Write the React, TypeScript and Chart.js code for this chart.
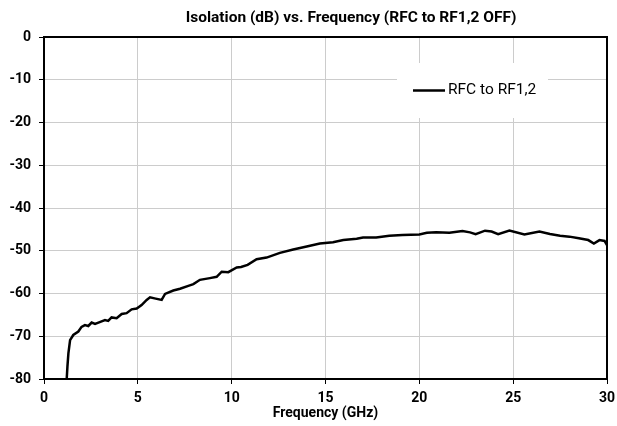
import React, { useEffect, useRef } from "react";
import { Chart, registerables } from "chart.js";

Chart.register(...registerables);

const frequencyGHz = [
  1.21, 1.25, 1.3, 1.39, 1.56, 1.83, 2.0, 2.18, 2.36, 2.54, 2.72, 2.9, 3.07, 3.25, 3.42, 3.6,
  3.87, 4.14, 4.4, 4.67, 4.94, 5.2, 5.47, 5.65, 5.95, 6.27, 6.45, 6.89, 7.25, 7.69, 7.96, 8.31,
  8.84, 9.2, 9.47, 9.82, 10.27, 10.5, 10.85, 11.33, 11.86, 12.57, 13.28, 14.0, 14.7, 15.4, 15.95,
  16.66, 17.0, 17.7, 18.4, 19.1, 20.0, 20.4, 20.9, 21.6, 22.3, 22.7, 23.0, 23.5, 23.85, 24.2,
  24.8, 25.6, 26.4, 26.96, 27.5, 28.0, 28.5, 29.0, 29.3, 29.6, 29.87, 30.0,
];
const isolationDb = [
  -80, -77, -74, -70.9, -69.7, -68.9, -67.8, -67.4, -67.6, -66.8, -67.1, -66.8, -66.5, -66.2,
  -66.4, -65.6, -65.8, -64.8, -64.6, -63.7, -63.5, -62.7, -61.5, -60.9, -61.2, -61.5, -60.1,
  -59.3, -58.9, -58.2, -57.8, -56.8, -56.4, -56.1, -54.9, -55.0, -53.9, -53.8, -53.3, -52.0,
  -51.6, -50.5, -49.7, -49.0, -48.3, -48.0, -47.5, -47.2, -46.9, -46.9, -46.5, -46.3, -46.2,
  -45.8, -45.7, -45.8, -45.4, -45.7, -46.1, -45.3, -45.5, -46.1, -45.3, -46.2, -45.5, -46.1,
  -46.5, -46.7, -47.1, -47.5, -48.3, -47.5, -47.7, -48.7,
];
const seriesLabel = "RFC to RF1,2";
const chartTitle = "Isolation (dB) vs. Frequency (RFC to RF1,2 OFF)";
const xAxisTitle = "Frequency (GHz)";

const overlayPlugin = {
  id: "overlay",
  afterDatasetsDraw(chart: any) {
    const { ctx, chartArea } = chart;
    ctx.save();
    // legend box
    const bx = chartArea.left + 353;
    const by = chartArea.top + 26;
    ctx.fillStyle = "#ffffff";
    ctx.fillRect(bx, by, 151, 55);
    ctx.strokeStyle = "#000000";
    ctx.lineWidth = 2.5;
    ctx.beginPath();
    ctx.moveTo(bx + 16, by + 27.5);
    ctx.lineTo(bx + 48, by + 27.5);
    ctx.stroke();
    ctx.fillStyle = "#000000";
    ctx.font = "15.5px Roboto";
    ctx.textBaseline = "middle";
    ctx.textAlign = "left";
    ctx.fillText(chart.data.datasets[0].label, bx + 51, by + 27);
    // frame
    ctx.lineWidth = 2;
    ctx.strokeRect(chartArea.left, chartArea.top, chartArea.right - chartArea.left, chartArea.bottom - chartArea.top);
    // title
    ctx.font = "bold 15.5px Roboto";
    ctx.textAlign = "center";
    ctx.fillText(chartTitle, 351, 18);
    ctx.restore();
  },
};

export default function App() {
  const ref = useRef<HTMLCanvasElement>(null);
  useEffect(() => {
    document.body.style.margin = "0";
    const chart = new Chart(ref.current!, {
      type: "line",
      data: {
        datasets: [
          {
            label: seriesLabel,
            data: frequencyGHz.map((f, i) => ({ x: f, y: isolationDb[i] })),
            borderColor: "#000000",
            borderWidth: 2.5,
            pointRadius: 0,
            tension: 0,
            fill: false,
          },
        ],
      },
      options: {
        animation: false,
        responsive: false,
        maintainAspectRatio: false,
        layout: { padding: { top: 37, right: 10, left: 0, bottom: 4 } },
        plugins: { legend: { display: false }, title: { display: false }, tooltip: { enabled: false } },
        scales: {
          x: {
            type: "linear",
            min: 0,
            max: 30,
            ticks: { stepSize: 5, color: "#000", font: { family: "Roboto", weight: "bold", size: 14 }, padding: 6, maxRotation: 0 },
            grid: { color: "#cccccc", lineWidth: 1, tickColor: "#000", tickLength: 5 },
            border: { color: "#000", width: 2 },
            title: { display: true, text: xAxisTitle, color: "#000", font: { family: "Roboto", weight: "bold", size: 14 }, padding: { top: 0, bottom: 0 } },
            afterFit: (s: any) => { s.height = 43; s.paddingLeft = 0; s.paddingRight = 0; },
          },
          y: {
            min: -80,
            max: 0,
            ticks: { stepSize: 10, color: "#000", font: { family: "Roboto", weight: "bold", size: 14 }, padding: 8 },
            grid: { color: "#cccccc", lineWidth: 1, tickColor: "#000", tickLength: 5 },
            border: { color: "#000", width: 2 },
            afterFit: (s: any) => { s.width = 44; s.paddingTop = 0; s.paddingBottom = 0; },
          },
        },
      },
      plugins: [overlayPlugin],
    });
    return () => chart.destroy();
  }, []);
  return (
    <div style={{ position: "absolute", left: 0, top: 0, width: 617, height: 426 }}>
      <canvas ref={ref} width={617} height={426} style={{ width: 617, height: 426 }} />
    </div>
  );
}
